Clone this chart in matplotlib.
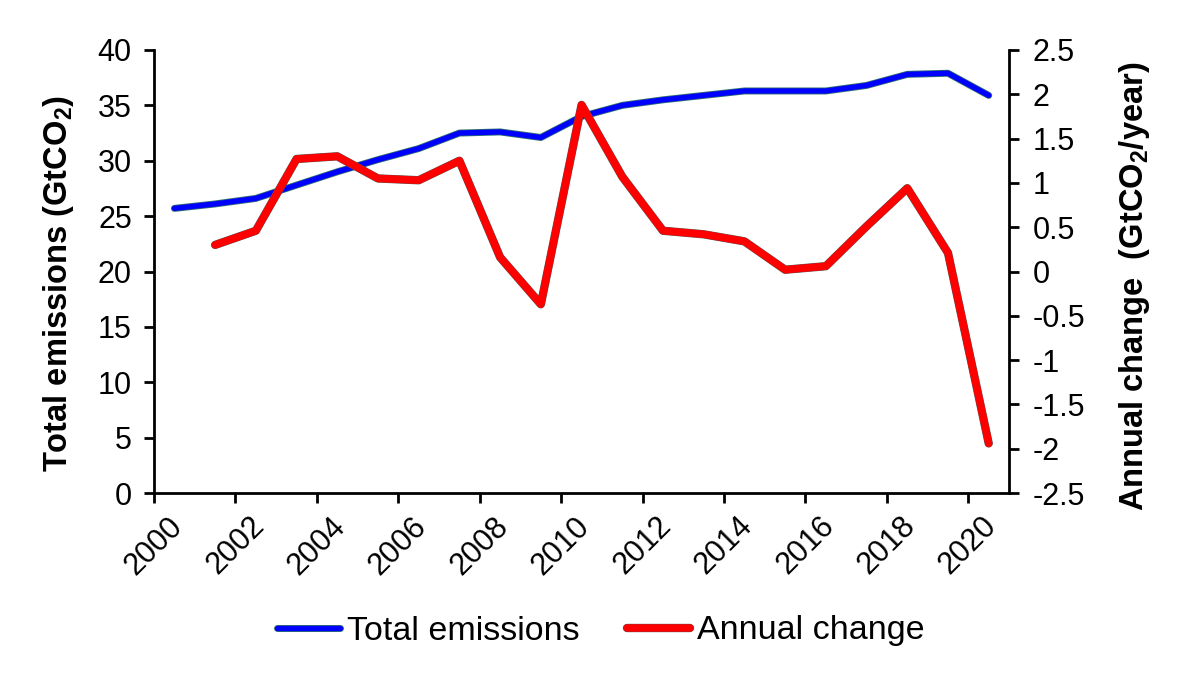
import numpy as np
import matplotlib
matplotlib.use('Agg')
import matplotlib.pyplot as plt
import matplotlib.patheffects as pe

plt.rcParams['font.family'] = 'Liberation Sans'
plt.rcParams['mathtext.fontset'] = 'custom'
plt.rcParams['mathtext.rm'] = 'Liberation Sans'
plt.rcParams['mathtext.bf'] = 'Liberation Sans:bold'

# data
years = list(range(2000, 2021))
total_emissions = [25.7, 26.1, 26.6, 27.8, 29.0, 30.1, 31.1, 32.5, 32.6, 32.1, 34.0,
                   35.0, 35.5, 35.9, 36.3, 36.3, 36.3, 36.8, 37.8, 37.9, 35.9]
change_years = list(range(2001, 2021))
annual_change = [0.30, 0.46, 1.27, 1.30, 1.05, 1.03, 1.25, 0.16, -0.37, 1.88,
                 1.07, 0.46, 0.42, 0.34, 0.02, 0.06, 0.51, 0.94, 0.21, -1.94]
xtick_years = list(range(2000, 2021, 2))

fs = 22      # tick labels
lab_fs = 23.5  # axis titles
leg_fs = 24.5

W, H = 1197, 682
fig = plt.figure(figsize=(W / 100, H / 100), dpi=100)
ax = fig.add_subplot(111)
fig.subplots_adjust(left=0.1287, right=0.843, top=0.9267, bottom=0.2771)
ax2 = ax.twinx()

x1 = np.array(years) + 0.5
x2 = np.array(change_years) + 0.5

l1, = ax.plot(x1, total_emissions, color='#0000FF', lw=3.8, solid_capstyle='round',
              path_effects=[pe.Stroke(linewidth=5.0, foreground='#2E6E6E'), pe.Normal()],
              label='Total emissions', zorder=3)
l2, = ax2.plot(x2, annual_change, color='#FF0000', lw=5.4, solid_capstyle='round',
               path_effects=[pe.Stroke(linewidth=6.0, foreground='#555555'), pe.Normal()],
               label='Annual change', zorder=3)

ax.set_xlim(2000, 2021)
ax.set_ylim(0, 40)
ax.set_yticks(range(0, 41, 5))
ax2.set_ylim(-2.5, 2.5)
r_ticks = np.arange(-2.5, 2.51, 0.5)
ax2.set_yticks(r_ticks)
ax2.set_yticklabels(['%g' % t for t in r_ticks])

ax.set_xticks(xtick_years)
ax.set_xticklabels([str(y) for y in xtick_years], rotation=45, ha='center', va='top')

for a in (ax, ax2):
    a.spines['top'].set_visible(False)
    for s in a.spines.values():
        s.set_linewidth(2)
    a.tick_params(direction='out', length=7, width=2, labelsize=fs, colors='black')
ax.spines['right'].set_visible(False)
ax2.spines['left'].set_visible(False)
ax2.spines['bottom'].set_visible(False)
ax.tick_params(axis='x', pad=6)
ax.tick_params(axis='y', pad=9)
ax2.tick_params(axis='y', pad=10)

# axis titles placed like the original (a bit below the axes centre)
fig.text(59 / W, 1 - 284 / H, r'Total emissions (GtCO$_\mathbf{2}$)', fontsize=lab_fs,
         fontweight='bold', rotation=90, ha='center', va='center')
fig.text(1134 / W, 1 - 286 / H, r'Annual change  (GtCO$_\mathbf{2}$/year)', fontsize=lab_fs,
         fontweight='bold', rotation=90, ha='center', va='center')

fig.legend(handles=[l1, l2], loc='center', bbox_to_anchor=(601 / W, 1 - 631 / H), ncol=2,
           frameon=False, fontsize=leg_fs, handlelength=1.85, handletextpad=0.2, columnspacing=1.4)

fig.savefig('out.png', dpi=100)
